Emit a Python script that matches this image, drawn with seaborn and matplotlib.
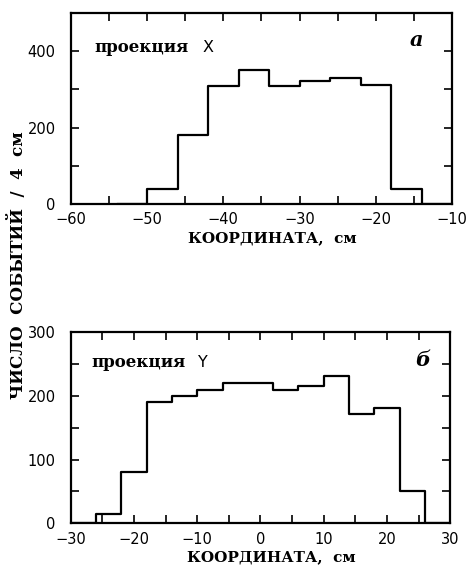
import matplotlib
matplotlib.use("Agg")
import matplotlib.pyplot as plt
import seaborn as sns
import numpy as np
import pandas as pd

# Data (zero-count bins at both ends close the outline down to the axis)
x_edges = [-54, -50, -46, -42, -38, -34, -30, -26, -22, -18, -14, -10]
x_counts = [0, 40, 180, 310, 352, 310, 321, 331, 311, 40, 0]
y_edges = [-30, -26, -22, -18, -14, -10, -6, -2, 2, 6, 10, 14, 18, 22, 26, 30]
y_counts = [0, 15, 80, 190, 200, 210, 221, 221, 210, 216, 231, 171, 181, 51, 0]
x_label = "КООРДИНАТА,  см"
y_label = "ЧИСЛО  СОБЫТИЙ  /  4  см"
panel_texts = ["проекция", "проекция"]
panel_axes = ["X", "Y"]
panel_letters = ["а", "б"]

sns.set_style("ticks")
plt.rcParams['font.family'] = ['DejaVu Sans']
plt.rcParams['text.color'] = 'black'
plt.rcParams['xtick.color'] = 'black'
plt.rcParams['ytick.color'] = 'black'
plt.rcParams['axes.labelcolor'] = 'black'

fig = plt.figure(figsize=(4.66, 5.65), dpi=100)
ax1 = fig.add_axes([0.152, 0.639, 0.818, 0.338])
ax2 = fig.add_axes([0.152, 0.074, 0.814, 0.338])

def draw(ax, edges, counts):
    e = [float(v) for v in edges]
    centers = [(a + b) / 2 for a, b in zip(e[:-1], e[1:])]
    df = pd.DataFrame({"c": centers, "w": counts})
    sns.histplot(data=df, x="c", weights="w", bins=e, element="step",
                 fill=False, color="black", linewidth=1.6, ax=ax)
    for s in ax.spines.values():
        s.set_visible(True)
        s.set_linewidth(1.6)
        s.set_color("black")
    ax.tick_params(which="both", direction="in", top=True, right=True,
                   length=6, width=1.2, labelsize=10.5, colors="black")
    ax.tick_params(axis="y", pad=11)
    ax.tick_params(axis="x", pad=6)
    ax.set_xlabel(x_label, fontsize=11, fontweight="bold",
                  family="DejaVu Serif", labelpad=0, color="black")
    ax.xaxis.set_label_coords(0.528, -0.14)
    ax.set_ylabel("")

draw(ax1, x_edges, x_counts)
ax1.set_xlim(-60, -10)
ax1.set_ylim(0, 500)
ax1.set_xticks([-60, -50, -40, -30, -20, -10])
ax1.set_xticks(np.arange(-55, -10, 10), minor=True)
ax1.set_yticks([0, 200, 400])
ax1.set_yticks([100, 300], minor=True)

draw(ax2, y_edges, y_counts)
ax2.set_xlim(-30, 30)
ax2.set_ylim(0, 300)
ax2.set_xticks([-30, -20, -10, 0, 10, 20, 30])
ax2.set_xticks(np.arange(-25, 30, 10), minor=True)
ax2.set_yticks([0, 100, 200, 300])
ax2.set_yticks([50, 150, 250], minor=True)

pos = [((0.063, 0.82), (0.345, 0.82), (0.908, 0.86)),
       ((0.055, 0.84), (0.335, 0.84), (0.929, 0.853))]
for ax, t, a, l, p in zip([ax1, ax2], panel_texts, panel_axes, panel_letters, pos):
    ax.text(*p[0], t, transform=ax.transAxes, fontsize=12,
            fontweight="bold", family="DejaVu Serif", va="center", ha="left")
    ax.text(*p[1], a, transform=ax.transAxes, fontsize=11.5,
            va="center", ha="left")
    ax.text(*p[2], l, transform=ax.transAxes, fontsize=15,
            style="italic", fontweight="bold", family="DejaVu Serif",
            va="center", ha="center")

fig.text(0.038, 0.53, y_label, rotation=90, fontsize=12, fontweight="bold",
         family="DejaVu Serif", va="center", ha="center")

fig.savefig("out.png", dpi=100)
